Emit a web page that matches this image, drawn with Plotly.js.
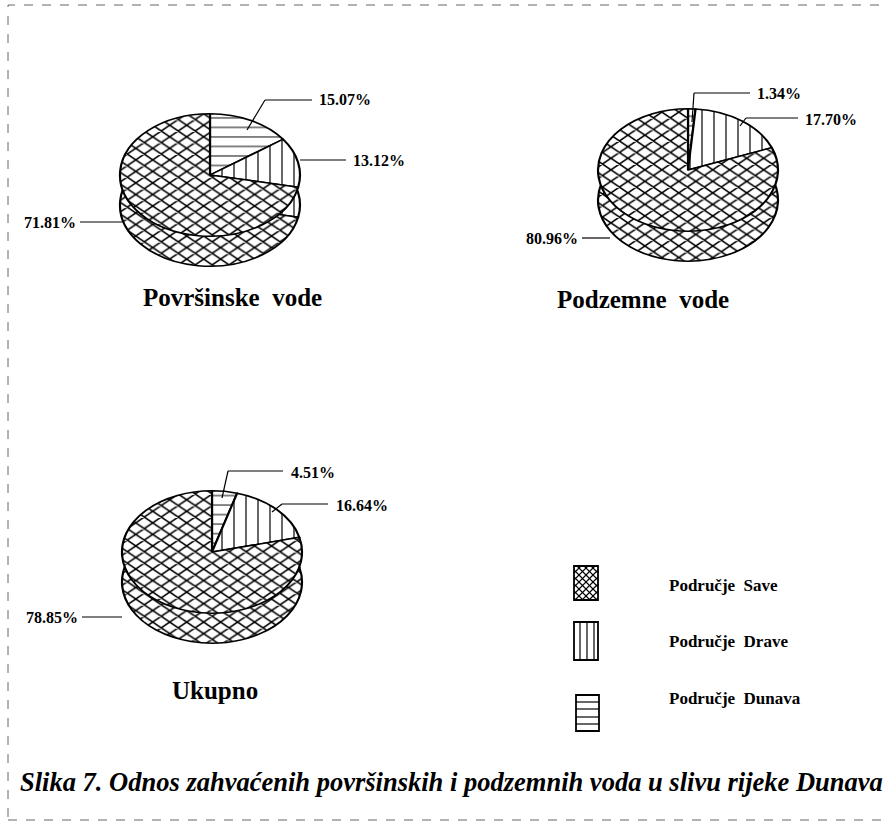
<!DOCTYPE html>
<html><head><meta charset="utf-8">
<script src="https://cdn.plot.ly/plotly-3.0.1.min.js"></script>
<style>html,body{margin:0;padding:0;background:#fff}</style>
</head><body>
<div id="chart" style="width:888px;height:824px"></div>
<script>
// ---- data ----
const categories = ['Područje Dunava', 'Područje Drave', 'Područje Save'];
const povrsinske = [15.07, 13.12, 71.81];
const podzemne   = [1.34, 17.70, 80.96];
const ukupno     = [4.51, 16.64, 78.85];
const chartTitles = ['Površinske\u00a0 vode', 'Podzemne\u00a0 vode', 'Ukupno'];
const legendLabels = ['Područje\u00a0 Save', 'Područje\u00a0 Drave', 'Područje\u00a0 Dunava'];
const captionText = 'Slika 7. Odnos zahvaćenih površinskih i podzemnih voda u slivu rijeke Dunava';

// ---- geometry ----
const W = 888, H = 824;
const S = 0.68;      // vertical squash of the pie tops
const DEPTH = 30;    // cylinder depth in px
const R = 90;
const centers = [[210, 175], [688, 170], [212, 552]];
const px = x => x / W;
const py = y => 1 - y / H;
const FONT = 'Liberation Serif, Times New Roman, serif';

function pieTrace(vals, c) {
  return {
    type: 'pie', labels: categories, values: vals, sort: false,
    direction: 'clockwise', rotation: 0,
    textinfo: 'none', textposition: 'none', hoverinfo: 'skip', showlegend: false,
    domain: {x: [px(c[0] - R), px(c[0] + R)], y: [py(c[1] + R), py(c[1] - R)]},
    marker: {
      colors: ['#ffffff', '#ffffff', '#ffffff'],
      line: {color: '#000', width: 2.2},
      pattern: {shape: ['-', '|', 'x'], fgcolor: '#000', bgcolor: '#fff',
                size: [14, 12, 12], solidity: [0.1, 0.1, 0.3], fillmode: 'replace'}
    }
  };
}
const series = [povrsinske, podzemne, ukupno];
const data = [];
series.forEach((v, i) => data.push(pieTrace(v, centers[i])));   // sides (behind)
series.forEach((v, i) => data.push(pieTrace(v, centers[i])));   // tops

// ---- shapes & annotations ----
const shapes = [];
const annotations = [];
function line(pts, w) {
  for (let i = 0; i < pts.length - 1; i++) {
    shapes.push({type: 'line', xref: 'paper', yref: 'paper',
      x0: px(pts[i][0]), y0: py(pts[i][1]), x1: px(pts[i + 1][0]), y1: py(pts[i + 1][1]),
      line: {color: '#000', width: w || 1.2}});
  }
}
function text(t, x, y, size, anchor, extra) {
  annotations.push(Object.assign({text: t, xref: 'paper', yref: 'paper', x: px(x), y: py(y),
    xanchor: anchor || 'left', yanchor: 'middle', showarrow: false,
    font: {family: FONT, size: size, color: '#000', weight: 'bold'}}, extra || {}));
}
const pct = v => v.toFixed(2) + '%';

// leader lines + labels (Dunava, Drave, Save)
const leaders = [
  [[[247, 130], [265, 100], [312, 100]], [317, 100, 'left'],
   [[300, 160], [346, 160]],             [351, 160, 'left'],
   [[124, 222], [80, 222]],              [78, 222, 'right']],
  [[[692, 122], [694, 93], [750, 93]],   [755, 93, 'left'],
   [[740, 126], [746, 118], [798, 118]], [803, 119, 'left'],
   [[610, 238], [582, 238]],             [580, 238, 'right']],
  [[[222, 498], [228, 471], [283, 471]], [289, 472, 'left'],
   [[272, 512], [282, 504], [328, 504]], [334, 505, 'left'],
   [[122, 617], [82, 617]],              [80, 617, 'right']]
];
leaders.forEach((L, i) => {
  for (let k = 0; k < 3; k++) {
    line(L[2 * k]);
    const t = L[2 * k + 1];
    text(pct(series[i][k]), t[0], t[1], 16, t[2]);
  }
});

// titles
text(chartTitles[0], 232, 297, 25, 'center');
text(chartTitles[1], 643, 299, 25, 'center');
text(chartTitles[2], 215, 690, 25, 'center');

// legend boxes
function rect(x0, y0, x1, y1) {
  shapes.push({type: 'rect', xref: 'paper', yref: 'paper', x0: px(x0), y0: py(y1), x1: px(x1), y1: py(y0),
    line: {color: '#000', width: 1.8}, fillcolor: 'rgba(0,0,0,0)'});
}
// Save: crosshatch
(function () {
  const x0 = 574, y0 = 566, w = 24, h = 34, d = 7;
  for (let t = -w; t <= h; t += d) {
    const a = Math.max(0, -t), b = Math.min(w, h - t);
    if (b > a) line([[x0 + a, y0 + a + t], [x0 + b, y0 + b + t]], 1.1);
  }
  for (let t = 0; t <= w + h; t += d) {
    const a = Math.max(0, t - h), b = Math.min(w, t);
    if (b > a) line([[x0 + a, y0 + t - a], [x0 + b, y0 + t - b]], 1.1);
  }
  rect(x0, y0, x0 + w, y0 + h);
})();
// Drave: vertical lines
[580, 587, 594].forEach(x => line([[x, 622], [x, 660]], 1.2));
rect(574, 622, 598, 660);
// Dunava: horizontal lines
[702, 709, 717, 724].forEach(y => line([[576, y], [599, y]], 1.2));
rect(576, 695, 599, 731);

text(legendLabels[0], 667, 585, 17, 'left');
text(legendLabels[1], 667, 641, 17, 'left');
text(legendLabels[2], 667, 698, 17, 'left');

// caption
text(captionText, 18, 782, 26.5, 'left', {font: {family: FONT, size: 26.5, color: '#000', weight: 'bold', style: 'italic'}});

// frame
shapes.push({type: 'rect', xref: 'paper', yref: 'paper', x0: px(8), y0: py(820), x1: px(900), y1: py(5),
  line: {color: '#666', width: 1, dash: 'dash'}, fillcolor: 'rgba(0,0,0,0)'});

const layout = {
  width: W, height: H, margin: {l: 0, r: 0, t: 0, b: 0},
  paper_bgcolor: '#fff', plot_bgcolor: '#fff', showlegend: false,
  font: {family: FONT, color: '#000'},
  shapes: shapes, annotations: annotations
};

Plotly.newPlot('chart', data, layout, {staticPlot: true, displayModeBar: false}).then(gd => {
  const groups = gd.querySelectorAll('.pielayer g.trace');
  groups.forEach((g, i) => {
    const cd = gd.calcdata[i] && gd.calcdata[i][0];
    const cy = (cd && cd.cy != null) ? cd.cy : centers[i % 3][1];
    const dy = i < 3 ? DEPTH : 0;
    g.setAttribute('transform', 'translate(0,' + (cy * (1 - S) + dy) + ') scale(1,' + S + ')');
  });
});
</script>
</body></html>
